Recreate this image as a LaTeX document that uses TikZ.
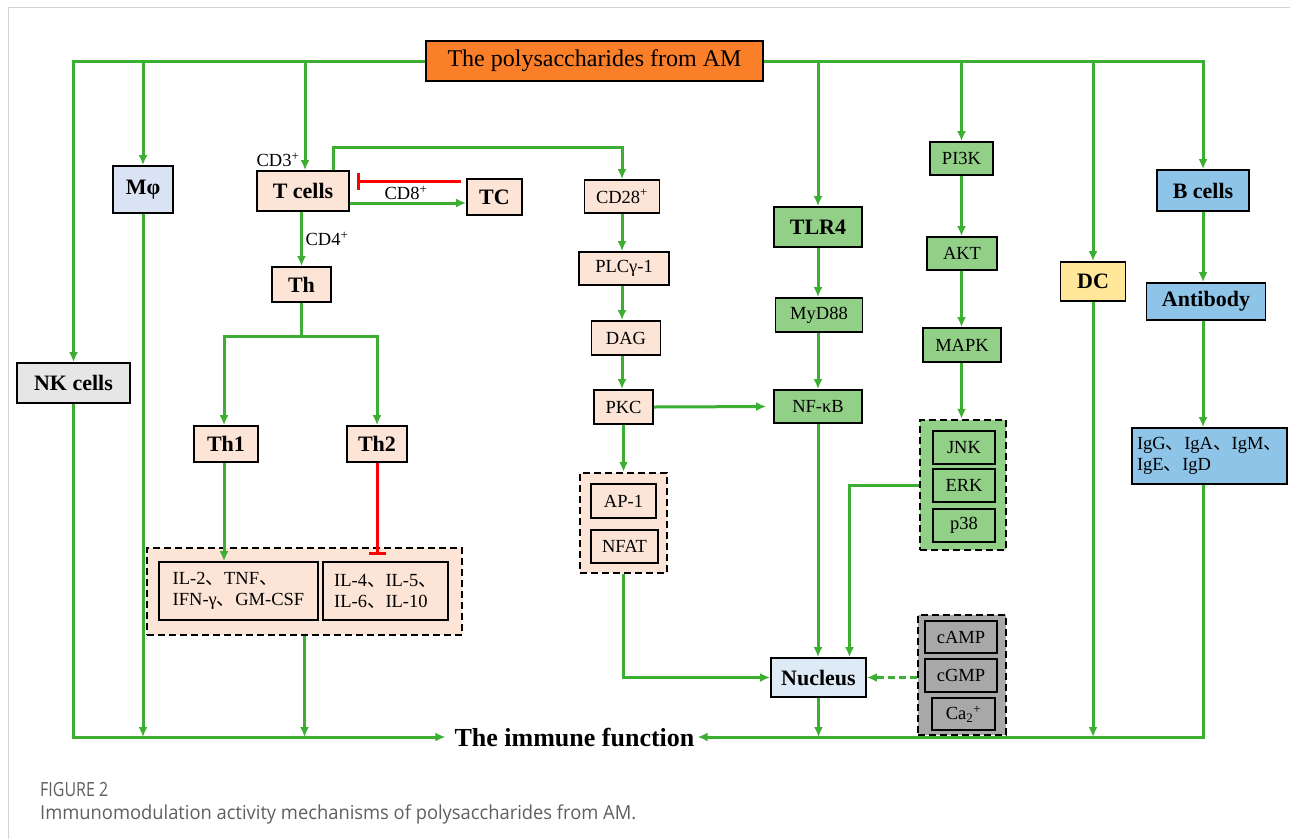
\documentclass[tikz,border=0pt]{standalone}
\usepackage{fontspec}
\setmainfont{Liberation Serif}
\newfontfamily\cjk{Noto Sans CJK SC}
\newfontfamily\capfont[FakeStretch=0.95]{Open Sans}
\newfontfamily\figfont[FakeStretch=0.82]{Open Sans}
\usetikzlibrary{arrows.meta}

\definecolor{amorange}{RGB}{250,127,40}
\definecolor{peach}{RGB}{252,228,214}
\definecolor{mphiblue}{RGB}{218,227,243}
\definecolor{nucblue}{RGB}{222,235,247}
\definecolor{skyblue}{RGB}{142,196,232}
\definecolor{mint}{RGB}{146,208,136}
\definecolor{gold}{RGB}{255,230,153}
\definecolor{nkgray}{RGB}{231,230,230}
\definecolor{midgray}{RGB}{168,168,168}
\definecolor{linegreen}{RGB}{60,175,50}
\definecolor{capgray}{RGB}{95,95,95}
\definecolor{framegray}{RGB}{212,212,212}

\newcommand{\dunhao}{{\cjk 、}}
\newcommand{\nsize}{\fontsize{18.5}{21}\selectfont}
\newcommand{\bsize}{\fontsize{22}{24}\selectfont\bfseries}

\begin{document}
\begin{tikzpicture}[x=1pt, y=-1pt,
  >={Latex[length=10pt,width=9pt]},
  flow/.style={->, draw=linegreen, line width=3pt},
  inhib/.style={-{Bar[width=17pt,line width=3pt]}, draw=red, line width=3pt},
  cell/.style={draw, line width=1.8pt, inner sep=2pt, align=center, font=\nsize},
  tag/.style={cell, font=\bsize},
  group/.style={draw, line width=2.4pt, dash pattern=on 7pt off 4pt},
  lbl/.style={inner sep=0pt, font=\nsize}]

\useasboundingbox (0,0) rectangle (1290,839);

% frame of the figure panel
\draw [framegray, line width=1pt] (8,839) -- (8,7) -- (1290,7);

% source
\node [cell, fill=amorange, minimum width=337pt, minimum height=40pt,
       font=\fontsize{24}{26}\selectfont] (top) at (594.5,61) {The polysaccharides from AM};

% cells on the left
\node [tag, fill=nkgray, minimum width=113pt, minimum height=40pt] (nk) at (73.5,383) {NK cells};
\node [tag, fill=mphiblue, minimum width=60pt, minimum height=47pt] (mphi) at (143,189.5) {Mφ};
\node [tag, fill=peach, minimum width=92pt, minimum height=40pt] (tcell) at (303,191) {T cells};
\node [tag, fill=peach, minimum width=55pt, minimum height=36pt] (tc) at (494.5,197) {TC};
\node [tag, fill=peach, minimum width=59pt, minimum height=35pt] (th) at (301.5,284.5) {Th};
\node [tag, fill=peach, minimum width=64pt, minimum height=36pt] (thone) at (226,444) {Th1};
\node [tag, fill=peach, minimum width=60pt, minimum height=36pt] (thtwo) at (377,444) {Th2};

% cytokines
\node [group, fill=peach, minimum width=315pt, minimum height=87pt] (ilgroup) at (304.5,591.5) {};
\node [cell, align=left, minimum width=159pt, minimum height=58pt] (iltwo) at (238.5,591)
      {IL-2\dunhao TNF\dunhao\\IFN-γ\dunhao GM-CSF};
\node [cell, align=left, minimum width=125pt, minimum height=58pt] (ilfour) at (385.5,591)
      {IL-4\dunhao IL-5\dunhao\\IL-6\dunhao IL-10};

% labels
\node [lbl] (cdthree) at (278,160) {CD3\textsuperscript{+}};
\node [lbl] (cdeight) at (406,193) {CD8\textsuperscript{+}};
\node [lbl] (cdfour) at (327,239) {CD4\textsuperscript{+}};

% CD28 pathway
\node [cell, fill=peach, minimum width=75pt, minimum height=33pt] (cd28) at (622,196.5) {CD28\textsuperscript{+}};
\node [cell, fill=peach, minimum width=90pt, minimum height=33pt] (plc) at (624,268.5) {PLCγ-1};
\node [cell, fill=peach, minimum width=69pt, minimum height=34pt] (dag) at (626,338) {DAG};
\node [cell, fill=peach, minimum width=59pt, minimum height=34pt] (pkc) at (623.5,407) {PKC};
\node [group, fill=peach, minimum width=87pt, minimum height=100pt] (apgroup) at (623.5,523) {};
\node [cell, minimum width=65pt, minimum height=34pt] (apone) at (623.5,501) {AP-1};
\node [cell, minimum width=67pt, minimum height=33pt] (nfat) at (624.5,546.5) {NFAT};

% TLR4 pathway
\node [tag, fill=mint, minimum width=88pt, minimum height=40pt] (tlr) at (818,227) {TLR4};
\node [cell, fill=mint, minimum width=87pt, minimum height=34pt] (myd) at (819,315) {MyD88};
\node [cell, fill=mint, minimum width=88pt, minimum height=33pt] (nfkb) at (818,406.5) {NF-κB};

% PI3K pathway
\node [cell, fill=mint, minimum width=63pt, minimum height=33pt] (pik) at (961.5,158.5) {PI3K};
\node [cell, fill=mint, minimum width=70pt, minimum height=33pt] (akt) at (962,253.5) {AKT};
\node [cell, fill=mint, minimum width=78pt, minimum height=34pt] (mapk) at (962,345) {MAPK};
\node [group, fill=mint, minimum width=86pt, minimum height=130pt] (mapkgroup) at (963,485) {};
\node [cell, minimum width=62pt, minimum height=33pt] (jnk) at (964,447.5) {JNK};
\node [cell, minimum width=62pt, minimum height=33pt] (erk) at (964,485.5) {ERK};
\node [cell, minimum width=62pt, minimum height=33pt] (pthree) at (964,525.5) {p38};

% second messengers
\node [group, fill=midgray, minimum width=88pt, minimum height=120pt] (cgroup) at (962,675) {};
\node [cell, minimum width=72pt, minimum height=32pt] (camp) at (961,637) {cAMP};
\node [cell, minimum width=72pt, minimum height=33pt] (cgmp) at (961,675.5) {cGMP};
\node [cell, minimum width=63pt, minimum height=32pt] (caion) at (963.5,714) {Ca\textsubscript{2}\textsuperscript{+}};

% DC and B cells
\node [tag, fill=gold, minimum width=65pt, minimum height=39pt] (dc) at (1093,281.5) {DC};
\node [tag, fill=skyblue, minimum width=92pt, minimum height=41pt] (bcell) at (1203,190.5) {B cells};
\node [tag, fill=skyblue, minimum width=119pt, minimum height=37pt] (antib) at (1206,301.5) {Antibody};
\node [cell, fill=skyblue, align=left, minimum width=155pt, minimum height=56pt] (ig) at (1209.5,456)
      {IgG\dunhao IgA\dunhao IgM\dunhao\\IgE\dunhao IgD};

% nucleus and output
\node [tag, fill=nucblue, minimum width=95pt, minimum height=39pt] (nucleus) at (818.5,677.5) {Nucleus};
\node [inner xsep=3pt, font=\fontsize{26}{28}\selectfont\bfseries] (immune) at (574.5,737) {The immune function};

% Draw the branches from the source
\draw [flow] (top.west) -| (nk.north);
\draw [flow] (top.west) -| (mphi.north);
\draw [flow] (top.west) -| ([xshift=2pt]tcell.north);
\draw [flow] (top.east) -| (tlr.north);
\draw [flow] (top.east) -| (pik.north);
\draw [flow] (top.east) -| (dc.north);
\draw [flow] (top.east) -| (bcell.north);

% T cells
\coordinate (tcup) at (333,147);
\coordinate (tcred) at (461,181);
\draw [flow] (tcell.north -| tcup) -- (tcup) -| (cd28.north);
\draw [inhib, shorten >=7pt] (tcred) -- (tcred -| tcell.east);
\draw [flow] (tcell.east |- 0,203) -- (tc.west |- 0,203);
\draw [flow] (tcell.south -| th.north) -- (th.north);
\coordinate (thfork) at (301.5,336);
\draw [flow] (th.south) -- (thfork) -| ([xshift=-2pt]thone.north);
\draw [flow] (thfork) -| (thtwo.north);
\draw [flow] ([xshift=-2pt]thone.south) -- ([xshift=-2pt]thone.south |- iltwo.north);
\draw [inhib] (thtwo.south) -- ([yshift=6pt]thtwo.south |- ilfour.north);

% CD28 chain
\draw [flow] (cd28.south) -- (cd28.south |- plc.north);
\draw [flow] (plc.south -| cd28.south) -- (cd28.south |- dag.north);
\draw [flow] (dag.south -| cd28.south) -- (cd28.south |- pkc.north);
\draw [flow] (pkc.south) -- (apgroup.north);
\draw [flow, shorten >=7pt] (pkc.east) -- (nfkb.west);
\draw [flow] (apgroup.south) |- (nucleus.west);

% TLR4 chain
\draw [flow] (tlr.south) -- (myd.north -| tlr.south);
\draw [flow] (myd.south -| tlr.south) -- (nfkb.north -| tlr.south);
\draw [flow] (nfkb.south) -- (nfkb.south |- nucleus.north);

% PI3K chain
\draw [flow] (pik.south) -- (akt.north -| pik.south);
\draw [flow] (akt.south -| pik.south) -- (mapk.north -| pik.south);
\draw [flow] (mapk.south -| pik.south) -- (mapkgroup.north -| pik.south);
\draw [flow] (erk -| mapkgroup.west) -| ([xshift=31pt]nucleus.north);
\draw [flow, dash pattern=on 7pt off 4pt] (cgroup.west |- nucleus) -- (nucleus.east);

% B cells
\draw [flow] (bcell.south) -- (bcell.south |- antib.north);
\draw [flow] (antib.south -| bcell.south) -- (ig.north -| bcell.south);

% towards the immune function
\draw [flow, shorten >=6pt] (nk.south) |- (immune.west);
\draw [flow] (mphi.south) -- (mphi.south |- immune.west);
\draw [flow] (ilgroup.south) -- (ilgroup.south |- immune.west);
\draw [flow] (ig.south -| bcell.south) |- (immune.east);
\draw [flow] (dc.south) -- (dc.south |- immune.east);
\draw [flow] (nucleus.south) -- (nucleus.south |- immune.east);

% caption
\node [anchor=west, inner sep=0pt, text=capgray, font=\figfont\fontsize{19.5}{22}\selectfont] (figno) at (40,790) {FIGURE 2};
\node [anchor=west, inner sep=0pt, text=capgray, font=\capfont\fontsize{19.3}{22}\selectfont] (caption) at (40,814)
      {Immunomodulation activity mechanisms of polysaccharides from AM.};

\end{tikzpicture}
\end{document}
